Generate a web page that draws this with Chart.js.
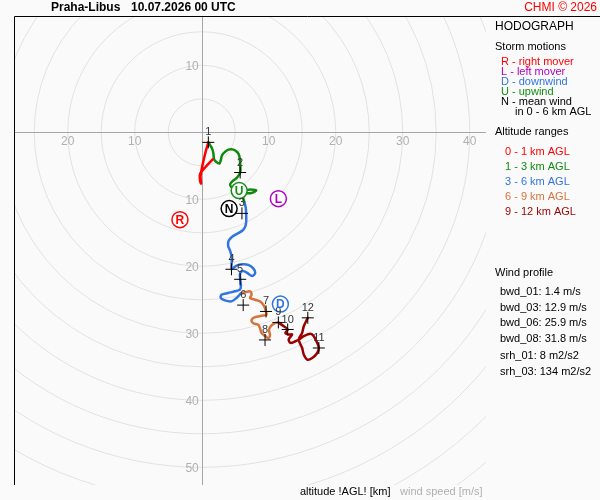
<!DOCTYPE html>
<html>
<head>
<meta charset="utf-8">
<script src="https://cdn.jsdelivr.net/npm/chart.js@4"></script>
<style>
  html, body { margin: 0; padding: 0; background: #fafafa; }
  #wrap { width: 600px; height: 500px; }
</style>
</head>
<body>
<div id="wrap"><canvas id="hodoChart" width="600" height="500"></canvas></div>
<script>
// hodograph trace, [u, v] in m/s, split by altitude range
const seg0to1 = [[1.62,-4.05],[0.64,-5.10],[-0.25,-6.22],[-0.25,-7.20],[-0.10,-7.65],[-0.18,-6.60],
  [0.04,-5.25],[0.34,-3.90],[0.64,-2.70],[0.99,-1.50]];
const seg1to3 = [[0.99,-1.50],[1.24,-1.90],[1.54,-2.40],[1.74,-3.15],[1.84,-4.00],[2.14,-4.39],[2.64,-4.65],
  [2.85,-4.15],[3.00,-3.49],[3.39,-3.00],[3.99,-2.59],[4.74,-2.59],[5.34,-3.00],[5.64,-3.64],[5.74,-4.65],
  [5.74,-6.00],[5.25,-6.79],[4.65,-7.24],[4.24,-7.75],[4.50,-8.29],[5.14,-8.54],[6.19,-8.69],[7.24,-8.54],
  [8.14,-8.69],[7.39,-9.07],[6.49,-9.14],[6.19,-9.74],[6.34,-10.34]];
const seg3to6 = [[6.34,-10.34],[6.57,-11.24],[6.64,-12.44],[6.64,-13.34],[6.49,-14.09],[6.04,-14.69],
  [5.29,-15.14],[4.54,-15.59],[4.02,-16.19],[3.94,-16.94],[4.24,-17.69],[4.47,-18.59],[4.47,-19.49],
  [4.47,-20.39],[5.14,-19.94],[6.04,-19.71],[6.94,-19.79],[7.69,-20.31],[7.99,-20.99],[7.54,-21.44],
  [6.79,-20.99],[6.19,-20.69],[5.74,-20.99],[5.74,-21.89],[5.85,-22.89],[5.70,-23.49],[4.95,-23.73],
  [3.94,-23.98],[2.94,-24.24],[2.85,-24.73],[3.45,-25.08],[4.44,-25.23],[5.19,-24.73],[5.82,-24.06]];
const seg6to9 = [[5.82,-24.06],[6.45,-23.88],[7.20,-23.73],[7.44,-24.24],[7.20,-24.73],[7.95,-24.99],
  [8.70,-25.23],[9.19,-25.74],[9.44,-26.23],[9.59,-26.73],[9.68,-27.24],[8.93,-27.39],[7.95,-27.58],
  [7.44,-27.99],[7.69,-28.48],[8.44,-28.74],[8.70,-29.23],[8.93,-29.98],[9.44,-30.38],[9.94,-30.73],
  [10.19,-30.23],[10.04,-29.48],[10.34,-28.88],[10.94,-28.48],[11.44,-28.38]];
const seg9to12 = [[11.44,-28.38],[12.23,-28.94],[12.83,-29.43],[12.49,-29.94],[12.98,-30.18],[13.49,-30.18],
  [12.98,-30.93],[13.24,-31.43],[13.99,-31.18],[14.48,-30.93],[15.23,-30.43],[16.24,-30.08],[16.73,-30.43],
  [17.24,-31.43],[17.48,-32.19],[17.24,-32.93],[16.49,-33.68],[15.74,-33.92],[15.23,-33.17],[14.99,-32.19],
  [14.48,-30.93],[14.99,-29.93],[15.23,-28.94],[15.83,-27.69]];

// km markers along the trace
const kmLabels = ['1','2','3','4','5','6','7','8','9','10','11','12'];
const kmPoints = [[0.99,-1.50],[5.74,-6.00],[6.00,-12.10],[4.44,-20.44],[5.74,-21.94],[6.19,-25.79],
  [9.60,-26.74],[9.45,-30.99],[11.44,-28.38],[12.83,-29.43],[17.48,-32.19],[15.83,-27.69]];

// storm motions
const stormLetters = ['R','L','D','U','N'];
const stormPoints = [[-3.25,-13.04],[11.44,-9.90],[11.74,-25.64],[5.59,-8.70],[4.09,-11.39]];
const stormColors = ['#ff0000','#b000c0','#2f74e0','#129012','#000000'];

// axes / rings
const ringSpeeds = [5,10,15,20,25,30,35,40,45,50,55,60,65,70,75,80];
const xTicks = [-20,-10,10,20,30,40];
const yTicks = [10,-10,-20,-30,-40,-50];

const layerColors = ['#ff0000','#0f8a0f','#2f74e0','#d4743c','#9a0000'];
const layerNames = ['0 - 1 km AGL','1 - 3 km AGL','3 - 6 km AGL','6 - 9 km AGL','9 - 12 km AGL'];
const stormNames = ['R - right mover','L - left mover','D - downwind','U - upwind','N - mean wind'];
const profileLines = ['bwd_01: 1.4 m/s','bwd_03: 12.9 m/s','bwd_06: 25.9 m/s','bwd_08: 31.8 m/s'];
const helicityLines = ['srh_01: 8 m2/s2','srh_03: 134 m2/s2'];

const FONT = '"Liberation Sans", Arial, sans-serif';
const toXY = arr => arr.map(p => ({ x: p[0], y: p[1] }));

const hodoBackground = {
  id: 'hodoBackground',
  beforeDatasetsDraw(chart) {
    const { ctx, chartArea: a, scales: { x, y } } = chart;
    const x0 = x.getPixelForValue(0);
    const y0 = y.getPixelForValue(0);
    const unit = x.getPixelForValue(1) - x0;
    ctx.save();
    ctx.beginPath();
    ctx.rect(a.left, a.top, a.right - a.left, a.bottom - a.top);
    ctx.clip();
    ctx.strokeStyle = '#e2e2e2';
    ctx.lineWidth = 1;
    ringSpeeds.forEach(r => {
      ctx.beginPath();
      ctx.arc(x0, y0, r * unit, 0, Math.PI * 2);
      ctx.stroke();
    });
    ctx.strokeStyle = '#a6a6a6';
    ctx.beginPath();
    ctx.moveTo(a.left, Math.round(y0) + 0.5);
    ctx.lineTo(a.right, Math.round(y0) + 0.5);
    ctx.moveTo(Math.round(x0) + 0.5, a.top);
    ctx.lineTo(Math.round(x0) + 0.5, a.bottom);
    ctx.stroke();

    ctx.fillStyle = '#b0b0b0';
    ctx.font = '12px ' + FONT;
    ctx.textAlign = 'center';
    ctx.textBaseline = 'middle';
    xTicks.forEach(t => ctx.fillText(String(Math.abs(t)), x.getPixelForValue(t), y0 + 9));
    ctx.textAlign = 'right';
    yTicks.forEach(t => ctx.fillText(String(Math.abs(t)), x0 - 3, y.getPixelForValue(t) + 1));
    ctx.restore();
  }
};

const hodoAnnotations = {
  id: 'hodoAnnotations',
  afterDatasetsDraw(chart) {
    const { ctx } = chart;
    ctx.save();
    // km labels above crosses
    const kmMeta = chart.getDatasetMeta(5);
    ctx.font = '11px ' + FONT;
    ctx.fillStyle = '#333';
    ctx.textAlign = 'center';
    ctx.textBaseline = 'middle';
    kmMeta.data.forEach((pt, i) => ctx.fillText(kmLabels[i], pt.x, pt.y - 10));
    // storm motion letters
    const stMeta = chart.getDatasetMeta(6);
    ctx.font = 'bold 12px ' + FONT;
    stMeta.data.forEach((pt, i) => {
      ctx.fillStyle = stormColors[i];
      ctx.fillText(stormLetters[i], pt.x, pt.y + 1);
    });
    ctx.restore();
  },
  afterDraw(chart) {
    const { ctx, chartArea: a } = chart;
    ctx.save();
    // frame
    ctx.strokeStyle = '#000';
    ctx.lineWidth = 1;
    ctx.beginPath();
    ctx.moveTo(600, a.top - 0.5);
    ctx.lineTo(a.left - 0.5, a.top - 0.5);
    ctx.lineTo(a.left - 0.5, a.bottom);
    ctx.stroke();

    ctx.textBaseline = 'middle';
    ctx.textAlign = 'left';
    ctx.fillStyle = '#000';
    ctx.font = 'bold 12px ' + FONT;
    ctx.fillText('Praha-Libus', 51, 8);
    ctx.fillText('10.07.2026 00 UTC', 131, 8);
    ctx.textAlign = 'right';
    ctx.fillStyle = '#ff0000';
    ctx.font = '12px ' + FONT;
    ctx.fillText('CHMI © 2026', 597, 8);

    // right panel
    ctx.textAlign = 'left';
    ctx.fillStyle = '#000';
    ctx.font = '12px ' + FONT;
    ctx.fillText('HODOGRAPH', 495, 27);
    ctx.font = '11px ' + FONT;
    ctx.fillText('Storm motions', 495, 47);
    stormNames.forEach((s, i) => {
      ctx.fillStyle = stormColors[i];
      ctx.fillText(s, 501, 62 + i * 10);
    });
    ctx.fillStyle = '#000';
    ctx.fillText('in 0 - 6 km AGL', 515, 112);
    ctx.fillText('Altitude ranges', 495, 132);
    layerNames.forEach((s, i) => {
      ctx.fillStyle = layerColors[i];
      ctx.fillText(s, 505, 152 + i * 15);
    });
    ctx.fillStyle = '#000';
    ctx.fillText('Wind profile', 495, 273);
    profileLines.forEach((s, i) => ctx.fillText(s, 500, 292 + i * 15.5));
    helicityLines.forEach((s, i) => ctx.fillText(s, 500, 356 + i * 15.5));

    // bottom captions
    ctx.fillText('altitude !AGL! [km]', 300, 492);
    ctx.fillStyle = '#b0b0b0';
    ctx.fillText('wind speed [m/s]', 400, 492);
    ctx.restore();
  }
};

const lineSet = (data, color) => ({
  data: toXY(data),
  showLine: true,
  borderColor: color,
  backgroundColor: color,
  borderWidth: 2.5,
  pointRadius: 0,
  tension: 0.3,
  borderCapStyle: 'round',
  borderJoinStyle: 'round',
  order: 3,
});

new Chart(document.getElementById('hodoChart'), {
  type: 'scatter',
  data: {
    datasets: [
      lineSet(seg0to1, layerColors[0]),
      lineSet(seg1to3, layerColors[1]),
      lineSet(seg3to6, layerColors[2]),
      lineSet(seg6to9, layerColors[3]),
      lineSet(seg9to12, layerColors[4]),
      {
        data: toXY(kmPoints),
        pointStyle: 'cross',
        pointRadius: 6,
        borderColor: '#000',
        borderWidth: 1,
        order: 2,
      },
      {
        data: toXY(stormPoints),
        pointStyle: 'circle',
        pointRadius: 8,
        backgroundColor: '#ffffff',
        borderColor: stormColors,
        borderWidth: 1.5,
        order: 1,
      },
    ],
  },
  options: {
    responsive: false,
    animation: false,
    devicePixelRatio: 1,
    layout: { padding: { left: 15, top: 17, right: 114, bottom: 15 } },
    plugins: {
      legend: { display: false },
      tooltip: { enabled: false },
    },
    scales: {
      x: { type: 'linear', display: false, min: -27.87, max: 42.43 },
      y: { type: 'linear', display: false, min: -52.64, max: 17.21 },
    },
  },
  plugins: [hodoBackground, hodoAnnotations],
});
</script>
</body>
</html>
